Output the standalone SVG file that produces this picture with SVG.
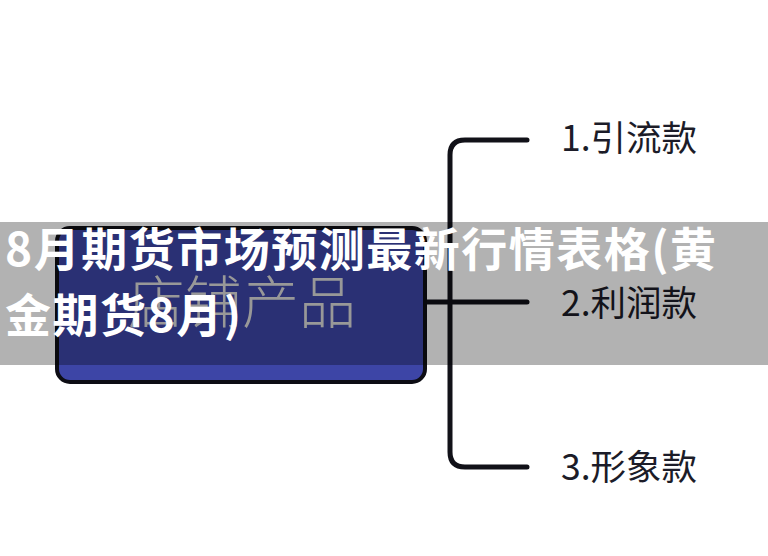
<svg xmlns="http://www.w3.org/2000/svg" width="768" height="556" viewBox="0 0 768 556">
<style>
.lbl{font-family:"Noto Sans CJK SC","Noto Sans",sans-serif;font-size:35.5px;fill:#1c1c28}
.con{fill:none;stroke:#111118;stroke-width:5;stroke-linecap:round;stroke-linejoin:round}
.title{font-family:"Noto Sans CJK SC","Noto Sans",sans-serif;font-size:46px;font-weight:bold;fill:#ffffff;letter-spacing:1.5px}
</style>
<rect x="0" y="0" width="768" height="556" fill="#ffffff"/>
<g id="connectors">
<path class="con" d="M425,302 H527"/>
<path class="con" d="M527,140 H465 Q450,140 450,155 V452 Q450,467 465,467 H527"/>
</g>
<g id="root">
<rect x="57" y="228" width="368" height="154" rx="13" ry="13" fill="#3d45a6" stroke="#0d0d14" stroke-width="4"/>
<text x="128" y="323" font-family="'Noto Sans CJK SC','Noto Sans',sans-serif" font-size="57" font-weight="300" fill="#dadada">店铺产品</text>
</g>
<g id="n1"><text class="lbl" x="561" y="151">1.引流款</text></g>
<g id="n2"><text class="lbl" x="561" y="316">2.利润款</text></g>
<g id="n3"><text class="lbl" x="561" y="480">3.形象款</text></g>
<g id="overlay">
<rect x="0" y="222" width="768" height="143" fill="#000000" fill-opacity="0.3"/>
<text class="title" x="5" y="266">8月期货市场预测最新行情表格(黄</text>
<text class="title" x="5" y="332">金期货8月)</text>
</g>
</svg>
